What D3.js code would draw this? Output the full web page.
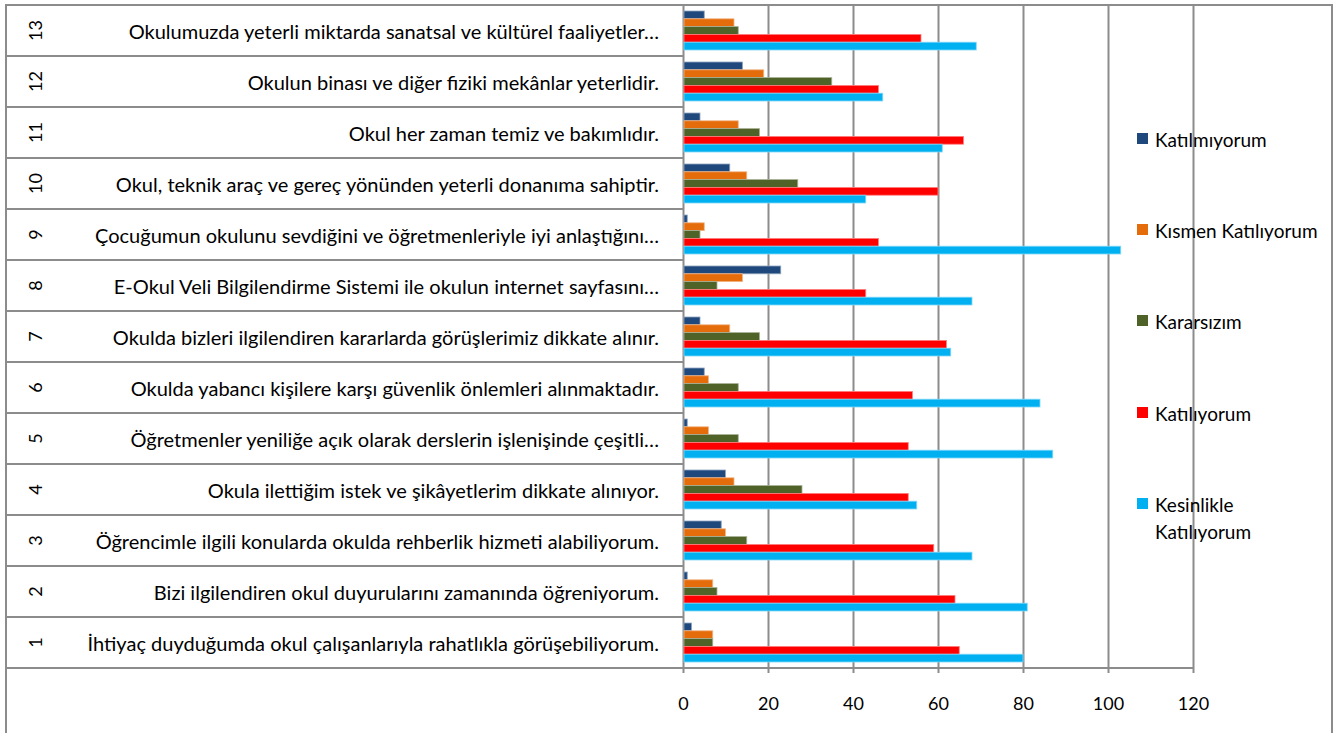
<!DOCTYPE html>
<html>
<head>
<meta charset="utf-8">
<script src="https://cdn.jsdelivr.net/npm/d3@7"></script>
<style>
  html, body { margin: 0; padding: 0; background: #fff; }
  svg { display: block; }
  text { font-family: Lato, "Open Sans", "DejaVu Sans", sans-serif; fill: #000; }
</style>
</head>
<body>
<svg id="chart" width="1341" height="733"></svg>
<script>
// ---- data ----
const categories = ["1","2","3","4","5","6","7","8","9","10","11","12","13"];
const labels = [
  "İhtiyaç duyduğumda okul çalışanlarıyla rahatlıkla görüşebiliyorum.",
  "Bizi ilgilendiren okul duyurularını zamanında öğreniyorum.",
  "Öğrencimle ilgili konularda okulda rehberlik hizmeti alabiliyorum.",
  "Okula ilettiğim istek ve şikâyetlerim dikkate alınıyor.",
  "Öğretmenler yeniliğe açık olarak derslerin işlenişinde çeşitli…",
  "Okulda yabancı kişilere karşı güvenlik önlemleri alınmaktadır.",
  "Okulda bizleri ilgilendiren kararlarda görüşlerimiz dikkate alınır.",
  "E-Okul Veli Bilgilendirme Sistemi ile okulun internet sayfasını…",
  "Çocuğumun okulunu sevdiğini ve öğretmenleriyle iyi anlaştığını…",
  "Okul, teknik araç ve gereç yönünden yeterli donanıma sahiptir.",
  "Okul her zaman temiz ve bakımlıdır.",
  "Okulun binası ve diğer fiziki mekânlar yeterlidir.",
  "Okulumuzda yeterli miktarda sanatsal ve kültürel faaliyetler…"
];
const seriesNames = ["Katılmıyorum", "Kısmen Katılıyorum", "Kararsızım", "Katılıyorum", "Kesinlikle Katılıyorum"];
const katilmiyorum        = [2, 1, 9, 10, 1, 5, 4, 23, 1, 11, 4, 14, 5];
const kismenKatiliyorum   = [7, 7, 10, 12, 6, 6, 11, 14, 5, 15, 13, 19, 12];
const kararsizim          = [7, 8, 15, 28, 13, 13, 18, 8, 4, 27, 18, 35, 13];
const katiliyorum         = [65, 64, 59, 53, 53, 54, 62, 43, 46, 60, 66, 46, 56];
const kesinlikleKatiliyorum = [80, 81, 68, 55, 87, 84, 63, 68, 103, 43, 61, 47, 69];
const seriesValues = [katilmiyorum, kismenKatiliyorum, kararsizim, katiliyorum, kesinlikleKatiliyorum];
const colors = ["#1F497D", "#E46C0A", "#4F6228", "#FF0000", "#00B0F0"];
const strokes = ["#8FA4BE", "#F2B585", "#A7B093", "#FF8080", "#80D7F7"];
const xTicks = [0, 20, 40, 60, 80, 100, 120];

// ---- layout ----
const svg = d3.select("#chart");
const gridColor = "#8C8C8C";
const frameLeft = 6, plotTop = 5, plotLeft = 683, plotRight = 1193, plotBottom = 668, frameRight = 1332;

const x = d3.scaleLinear().domain([0, 120]).range([plotLeft, plotRight]);
const y = d3.scaleBand().domain(categories.slice().reverse()).range([plotTop, plotBottom]).padding(0);
const yInner = d3.scaleBand().domain(seriesNames).range([0, y.bandwidth()]).paddingInner(0).paddingOuter(0.77);

// frame
svg.append("rect").attr("x", frameLeft).attr("y", plotTop).attr("width", frameRight - frameLeft).attr("height", 740)
  .attr("fill", "none").attr("stroke", gridColor).attr("stroke-width", 2);

// gridlines
const grid = svg.append("g").attr("transform", `translate(0,${plotBottom})`)
  .call(d3.axisBottom(x).tickValues(xTicks).tickSize(-(plotBottom - plotTop)).tickFormat(""));
grid.select(".domain").remove();
grid.selectAll("line").attr("stroke", gridColor).attr("stroke-width", 2);

// left table separators
const bounds = categories.map(c => y(c)).concat([plotBottom]);
svg.append("g").selectAll("line").data(bounds).join("line")
  .attr("x1", frameLeft).attr("x2", plotLeft).attr("y1", d => d).attr("y2", d => d)
  .attr("stroke", gridColor).attr("stroke-width", 2);

// bars
const rows = categories.map((c, i) => ({ cat: c, vals: seriesNames.map((s, j) => ({ s, j, v: seriesValues[j][i] })) }));
const gCat = svg.append("g").selectAll("g").data(rows).join("g")
  .attr("transform", d => `translate(0,${y(d.cat)})`);
gCat.selectAll("rect").data(d => d.vals).join("rect")
  .attr("x", x(0) + 1)
  .attr("y", d => yInner(d.s))
  .attr("width", d => Math.max(0, x(d.v) - x(0) - 1))
  .attr("height", yInner.bandwidth())
  .attr("fill", (d) => colors[d.j])
  .attr("stroke", d => strokes[d.j]).attr("stroke-width", 0.8);

// axis
const axis = svg.append("g").attr("transform", `translate(0,${plotBottom})`)
  .call(d3.axisBottom(x).tickValues(xTicks).tickSize(5).tickPadding(24));
axis.attr("font-size", null).attr("font-family", null);
axis.select(".domain").attr("stroke", gridColor).attr("stroke-width", 2)
  .attr("d", `M${frameLeft},0H${plotRight}`);
axis.selectAll("line").attr("stroke", gridColor).attr("stroke-width", 2);
axis.selectAll("text").attr("font-size", 18).attr("fill", "#000");

// left labels: numbers rotated + question text
const labG = svg.append("g");
categories.forEach((c, i) => {
  const cy = y(c) + y.bandwidth() / 2;
  labG.append("text").attr("transform", `translate(35,${cy}) rotate(-90)`)
    .attr("text-anchor", "middle").attr("dominant-baseline", "central")
    .attr("font-size", 18).text(c);
  labG.append("text").attr("class", "qlab").attr("x", 659).attr("y", cy)
    .attr("text-anchor", "end").attr("dominant-baseline", "central")
    .attr("font-size", 16).text(labels[i]);
});
// fit font so the longest label matches the reference width (~572px)
const first = labG.select(".qlab").node();
const w = first.getComputedTextLength();
const fs = 16 * 572 / w;
labG.selectAll(".qlab").attr("font-size", fs);

// legend
const legY = [139, 230, 321, 413, 504];
const leg = svg.append("g");
seriesNames.forEach((s, j) => {
  leg.append("rect").attr("x", 1137).attr("y", legY[j] - 6).attr("width", 11).attr("height", 11).attr("fill", colors[j]);
  const t = leg.append("text").attr("x", 1155).attr("y", legY[j]).attr("dominant-baseline", "central").attr("font-size", 19);
  if (s === "Kesinlikle Katılıyorum") {
    t.append("tspan").attr("x", 1155).text("Kesinlikle");
    t.append("tspan").attr("x", 1155).attr("dy", 27).text("Katılıyorum");
  } else {
    t.text(s);
  }
});
</script>
</body>
</html>
